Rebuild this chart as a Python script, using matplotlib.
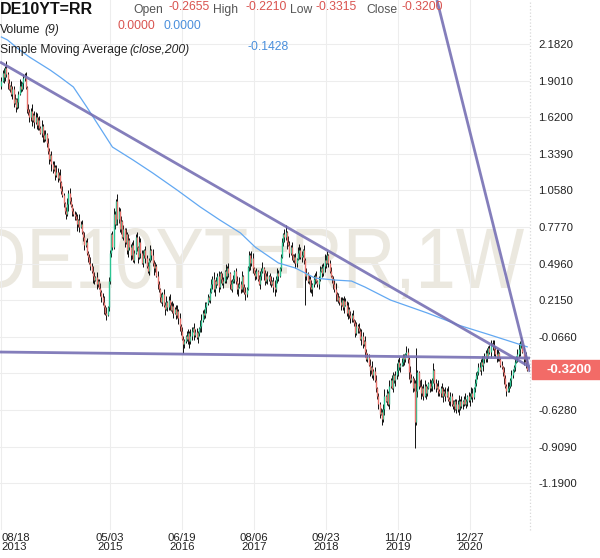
import numpy as np
import pandas as pd
import matplotlib
matplotlib.use('Agg')
import matplotlib.pyplot as plt
from matplotlib.patches import Rectangle, PathPatch
from matplotlib.textpath import TextPath
from matplotlib.font_manager import FontProperties
from matplotlib.transforms import Affine2D

plt.rcParams['font.family'] = ['Liberation Sans', 'DejaVu Sans']

# weekly closes (%), starting week of 2013-08-18
close_rows = [
    [1.90, 1.96, 1.93, 2.00, 1.95, 1.88, 1.84, 1.86, 1.80, 1.84],
    [1.73, 1.76, 1.70, 1.74, 1.80, 1.86, 1.84, 1.88, 1.92, 1.94],
    [1.85, 1.68, 1.66, 1.62, 1.67, 1.60, 1.64, 1.58, 1.62, 1.56],
    [1.60, 1.54, 1.50, 1.55, 1.48, 1.45, 1.49, 1.42, 1.36, 1.30],
    [1.33, 1.26, 1.22, 1.24, 1.18, 1.20, 1.15, 1.18, 1.12, 1.05],
    [1.02, 0.96, 0.90, 0.88, 0.95, 1.04, 0.98, 0.94, 0.90, 0.88],
    [0.86, 0.84, 0.80, 0.83, 0.78, 0.80, 0.74, 0.70, 0.64, 0.66, 0.58],
    [0.55, 0.50, 0.48, 0.44, 0.40, 0.37, 0.39, 0.34, 0.36, 0.31],
    [0.28, 0.24, 0.20, 0.16, 0.12, 0.10, 0.16, 0.36, 0.58, 0.72],
    [0.62, 0.88, 0.80, 0.98, 0.84, 0.90, 0.76, 0.82, 0.70, 0.76],
    [0.66, 0.72, 0.60, 0.68, 0.62, 0.56, 0.64, 0.52, 0.58, 0.70],
    [0.62, 0.55, 0.66, 0.58, 0.50, 0.56, 0.60, 0.54, 0.48, 0.44],
    [0.52, 0.60, 0.56, 0.50, 0.46, 0.48, 0.40, 0.34, 0.30, 0.24],
    [0.20, 0.26, 0.18, 0.15, 0.20, 0.16, 0.22, 0.18, 0.14, 0.17],
    [0.12, 0.15, 0.10, 0.13, 0.08, 0.02, -0.02, -0.08, -0.12, -0.10],
    [-0.06, -0.08, -0.04, -0.10, -0.06, -0.02, 0.00, -0.05, -0.03, -0.07],
    [-0.04, 0.00, 0.02, 0.06, 0.12, 0.10, 0.16, 0.19, 0.24, 0.22],
    [0.28, 0.34, 0.38, 0.30, 0.36, 0.34, 0.40, 0.32, 0.42, 0.38, 0.35],
    [0.36, 0.44, 0.40, 0.46, 0.42, 0.34, 0.30, 0.36, 0.38, 0.44],
    [0.36, 0.30, 0.32, 0.34, 0.30, 0.40, 0.32, 0.28, 0.26, 0.30],
    [0.47, 0.56, 0.50, 0.54, 0.46, 0.42, 0.40, 0.44, 0.38, 0.34],
    [0.40, 0.44, 0.46, 0.42, 0.36, 0.40, 0.38, 0.40, 0.36, 0.34],
    [0.36, 0.32, 0.30, 0.38, 0.42, 0.40, 0.46, 0.55, 0.66, 0.72],
    [0.70, 0.74, 0.66, 0.64, 0.58, 0.62, 0.56, 0.52, 0.55, 0.50],
    [0.53, 0.58, 0.60, 0.55, 0.56, 0.60, 0.52, 0.40, 0.42, 0.36],
    [0.38, 0.32, 0.30, 0.34, 0.38, 0.40, 0.36, 0.34, 0.38, 0.44],
    [0.46, 0.42, 0.48, 0.52, 0.50, 0.56, 0.50, 0.44, 0.40, 0.38],
    [0.34, 0.30, 0.26, 0.22, 0.24, 0.20, 0.18, 0.22, 0.16, 0.21],
    [0.18, 0.12, 0.15, 0.10, 0.08, 0.10, 0.06, 0.04, -0.04, 0.02, 0.00],
    [-0.02, -0.08, -0.06, -0.12, -0.10, -0.18, -0.24, -0.22, -0.28, -0.32],
    [-0.30, -0.36, -0.33, -0.40, -0.46, -0.52, -0.58, -0.66, -0.64, -0.70],
    [-0.62, -0.52, -0.56, -0.50, -0.58, -0.44, -0.40, -0.46, -0.36, -0.40],
    [-0.36, -0.32, -0.26, -0.30, -0.28, -0.26, -0.22, -0.24, -0.20, -0.18],
    [-0.24, -0.34, -0.40, -0.38, -0.46, -0.42, -0.72, -0.48, -0.34, -0.44],
    [-0.44, -0.50, -0.46, -0.52, -0.44, -0.50, -0.46, -0.42, -0.46, -0.44],
    [-0.40, -0.32, -0.42, -0.46, -0.44, -0.48, -0.50, -0.46, -0.52, -0.48],
    [-0.50, -0.52, -0.48, -0.54, -0.56, -0.52, -0.58, -0.60, -0.56, -0.62],
    [-0.58, -0.62, -0.56, -0.60, -0.56, -0.58, -0.54, -0.58, -0.56, -0.52],
    [-0.55, -0.52, -0.50, -0.53, -0.46, -0.42, -0.36, -0.34, -0.30, -0.32],
    [-0.26, -0.28, -0.22, -0.24, -0.19, -0.22, -0.15, -0.18, -0.13, -0.12, -0.14],
    [-0.16, -0.20, -0.22, -0.19, -0.24, -0.28, -0.30, -0.34, -0.38, -0.44],
    [-0.48, -0.46, -0.44, -0.40, -0.36, -0.32, -0.30, -0.26, -0.22, -0.20],
    [-0.16, -0.12, -0.10, -0.18, -0.24, -0.22, -0.2655, -0.32],
]
first_open = 1.86

# wick extensions beyond the body, in hundredths
wick_up = ("3241523142" "2413254132" "3142251343" "2315243142" "1324153241"
           "4213524312" "2341523142" "3125243142" "2413524132" "1342153241"
           "3152413242" "2415324132" "3241523142" "1324251342" "4213524132"
           "2143253142" "3214523412" "1342513241" "2431524132" "3124352412"
           "4213254132" "1342513241" "2413524312" "3142153241" "2314523142"
           "4132513241" "2413254312" "3124523142" "1423513241" "2314253142"
           "3241523412" "1324513242" "4213524132" "2143253142" "3214523412"
           "1342513241" "2431524132" "3124352412" "4213254132" "1342513241"
           "2413524312" "3142153241" "2314523142" "4132513241")
wick_dn = ("2153241324" "3142513242" "1324352413" "4213521324" "2531423142"
           "1324253142" "3152412342" "2413253142" "1342524132" "3214153241"
           "2413524312" "1352413242" "2314253142" "4132513241" "2413254312"
           "3124523142" "1423513241" "2314253142" "3241523412" "1324513242"
           "4213524132" "2143253142" "3214523412" "1342513241" "2431524132"
           "3124352412" "4213254132" "1342513241" "2413524312" "3142153241"
           "2153241324" "3142513242" "1324352413" "4213521324" "2531423142"
           "1324253142" "3152412342" "2413253142" "1342524132" "3214153241"
           "2413524312" "1352413242" "2314253142" "4132513241")
high_fix = {233: 0.79, 267: 0.59, 340: -0.15, 431: -0.221}
low_fix = {149: -0.19, 249: 0.18, 312: -0.74, 339: -0.92, 431: -0.3315}

# 200-week SMA
sma_week = [0, 5, 15, 23, 40, 48, 59, 70, 81, 91, 108, 124, 144, 163, 179, 196,
            208, 227, 241, 257, 273, 287, 298, 319, 349, 376, 400, 420, 431]
sma_val = [2.236, 2.213, 2.136, 2.082, 1.982, 1.929, 1.852, 1.698, 1.537, 1.391,
           1.291, 1.192, 1.061, 0.931, 0.831, 0.731, 0.623, 0.501, 0.462, 0.385,
           0.370, 0.362, 0.316, 0.216, 0.117, 0.020, -0.050, -0.110, -0.143]

# drawn trend lines (week, value) endpoints
trend_w = [(-1.15, 433.3), (-1.15, 433.3), (357.0, 433.3)]
trend_v = [(2.044, -0.298), (-0.183, -0.229), (2.520, -0.336)]

yticks = [2.182, 1.901, 1.620, 1.339, 1.058, 0.777, 0.496, 0.215, -0.066,
          -0.347, -0.628, -0.909, -1.190]
xtick_dates = ['2013-08-18', '2015-05-03', '2016-06-19', '2017-08-06',
               '2018-09-23', '2019-11-10', '2020-12-27']
last_close = -0.32

close = np.array([v for r in close_rows for v in r])
n = len(close)
weeks = pd.date_range('2013-08-18', periods=n, freq='7D')
opn = np.concatenate([[first_open], close[:-1]])
opn[-1] = -0.2655
hi = np.maximum(opn, close) + np.array([int(c) for c in wick_up[:n]]) / 100
lo = np.minimum(opn, close) - np.array([int(c) for c in wick_dn[:n]]) / 100
for k, v in high_fix.items():
    hi[k] = v
for k, v in low_fix.items():
    lo[k] = v

W, H = 600, 558
fig = plt.figure(figsize=(6, 5.58), dpi=100)
ax = fig.add_axes([0, 28 / H, 530 / W, 530 / H])
ax.set_xlim(-1.15, 433.3)
ax.set_ylim(-1.5495, 2.520)

# watermark, stretched to the box it fills in the original
tp = TextPath((0, 0), 'DE10YT=RR,1W', size=1,
              prop=FontProperties(family='Liberation Sans'))
bb = tp.get_extents()
sx = 544 / bb.width
sy = 60 / bb.y1
wm = Affine2D().translate(-bb.x0, 0).scale(sx / 530, sy / 530) \
    .translate(-20 / 530, 242 / 530)
ax.add_patch(PathPatch(tp, transform=wm + ax.transAxes, facecolor='#ebe8df',
                       edgecolor='none', zorder=0.5))

# grid + ticks
ax.set_yticks(yticks)
ax.set_yticklabels(['' if abs(v - last_close) < 0.05 else f'{v:.4f}' for v in yticks])
ax.yaxis.tick_right()
xt = weeks.get_indexer(pd.to_datetime(xtick_dates))
ax.set_xticks(xt)
ax.set_xticklabels([d.strftime('%m/%d\n%Y') for d in pd.to_datetime(xtick_dates)],
                   linespacing=0.95)
ax.get_xticklabels()[0].set_ha('left')
ax.tick_params(length=0, labelsize=8.2, labelcolor='#222')
ax.tick_params(axis='y', pad=6)
ax.tick_params(axis='x', pad=2)
ax.grid(color='#ededed', lw=0.8, zorder=0)
ax.set_axisbelow(True)
for s in ax.spines.values():
    s.set_visible(False)
ax.axvline(433.3, color='#d8d8d8', ls=':', lw=0.9, clip_on=False)

# candles
x = np.arange(n)
ax.vlines(x, lo, hi, color='#111111', lw=0.7, zorder=3)
up = close >= opn
ax.vlines(x[up], opn[up], close[up], color='#2cc492', lw=1.0, zorder=4)
ax.vlines(x[~up], close[~up], opn[~up], color='#e8736c', lw=1.0, zorder=4)

# SMA
ax.plot(sma_week, sma_val, color='#62a8f2', lw=0.9, zorder=5)

# trend lines
for tw, tv in zip(trend_w, trend_v):
    ax.plot(tw, tv, color='#7770b4', lw=2.0, alpha=0.9, zorder=6,
            solid_capstyle='butt')

# last price tag
yc = ax.transData.transform((0, last_close))[1]
fig.patches.append(Rectangle((532 / W, (yc - 9.5) / H), 68 / W, 19 / H,
                             transform=fig.transFigure, color='#f26b67', zorder=10))
fig.text(569 / W, yc / H, f'{last_close:.4f}', color='white', weight='bold',
         fontsize=9.5, ha='center', va='center', zorder=11)

# header
red, blue, grey = '#d9534f', '#4a8fdc', '#555555'
def hdr(xp, yp, s, color='#222222', **kw):
    fig.text(xp / W, 1 - yp / H, s, color=color, ha='left', va='center', **kw)

hdr(0, 9, 'DE10YT=RR', '#111111', fontsize=11.5, weight='bold')
hdr(133, 10, 'Open', grey, fontsize=8.7)
hdr(168, 7, '-0.2655', red, fontsize=8.7)
hdr(213, 10, 'High', grey, fontsize=8.7)
hdr(245, 7, '-0.2210', red, fontsize=8.7)
hdr(290, 10, 'Low', grey, fontsize=8.7)
hdr(316, 7, '-0.3315', red, fontsize=8.7)
hdr(366, 10, 'Close', grey, fontsize=8.7)
hdr(401, 7, '-0.3200', red, fontsize=8.7)
hdr(0, 30, 'Volume', fontsize=8.7)
hdr(44, 30, '(9)', fontsize=8.7, style='italic')
hdr(117, 26, '0.0000', red, fontsize=8.7)
hdr(163, 26, '0.0000', blue, fontsize=8.7)
hdr(0, 50, 'Simple Moving Average', fontsize=8.7)
hdr(129, 50, '(close,200)', fontsize=8.7, style='italic')
hdr(248, 47, '-0.1428', blue, fontsize=8.7)

fig.savefig('out.png', dpi=100)
